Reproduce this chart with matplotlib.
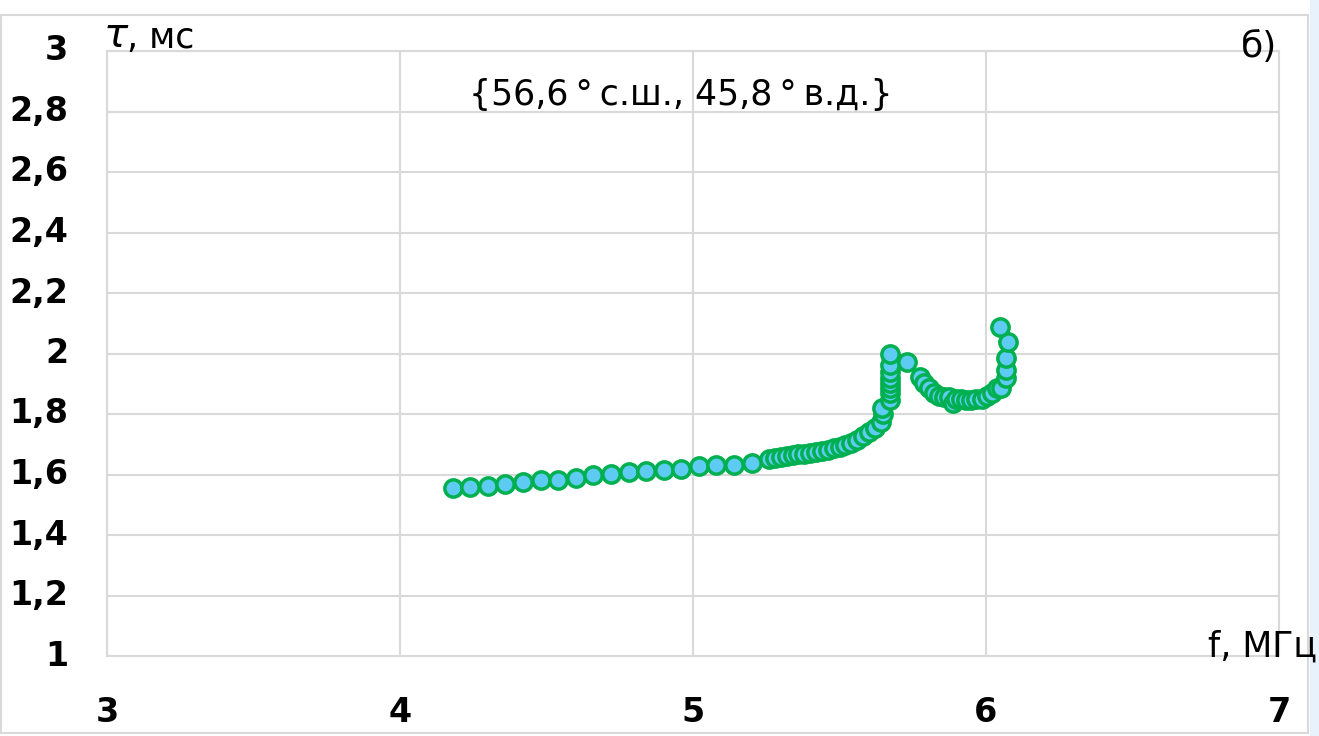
import matplotlib.pyplot as plt
from matplotlib.patches import Rectangle

# group delay vs frequency, single station
freq_mhz = [
    4.18, 4.24, 4.30, 4.36, 4.42, 4.48, 4.54, 4.60, 4.66, 4.72,
    4.78, 4.84, 4.90, 4.96, 5.02, 5.08, 5.14, 5.20,
    5.26, 5.28, 5.30, 5.32, 5.34, 5.36, 5.38, 5.40, 5.42, 5.44,
    5.46, 5.48, 5.50, 5.52, 5.54, 5.56, 5.58, 5.60, 5.62, 5.64,
    5.65, 5.645,
    5.672, 5.672, 5.672, 5.672, 5.672, 5.672, 5.672, 5.672,
    5.730,
    5.775, 5.789, 5.806, 5.823, 5.840, 5.857, 5.875, 5.886, 5.897,
    5.914, 5.932, 5.949, 5.966, 5.988, 6.005, 6.022, 6.039, 6.051,
    6.068, 6.068, 6.068, 6.074, 6.048,
]
tau_ms = [
    1.556, 1.559, 1.563, 1.569, 1.575, 1.581, 1.582, 1.588, 1.598, 1.602,
    1.609, 1.612, 1.615, 1.619, 1.629, 1.631, 1.633, 1.639,
    1.652, 1.655, 1.658, 1.661, 1.664, 1.667, 1.669, 1.671, 1.674, 1.677,
    1.681, 1.686, 1.691, 1.697, 1.705, 1.714, 1.726, 1.740, 1.755, 1.772,
    1.800, 1.820,
    1.846, 1.868, 1.885, 1.901, 1.918, 1.940, 1.962, 2.000,
    1.973,
    1.921, 1.901, 1.885, 1.868, 1.860, 1.857, 1.855, 1.835, 1.849,
    1.849, 1.846, 1.846, 1.849, 1.849, 1.858, 1.870, 1.885, 1.885,
    1.918, 1.945, 1.984, 2.039, 2.089,
]

x_ticks = [3, 4, 5, 6, 7]
y_ticks = [1, 1.2, 1.4, 1.6, 1.8, 2, 2.2, 2.4, 2.6, 2.8, 3]
y_labels = ["1", "1,2", "1,4", "1,6", "1,8", "2", "2,2", "2,4", "2,6", "2,8", "3"]

W, H = 1319, 736
fig = plt.figure(figsize=(W / 100, H / 100), dpi=100)
fig.patch.set_facecolor("white")

# outer frame and the pale strip on the right
fig.patches.append(Rectangle((1 / W, 3 / H), 1306.5 / W, 718 / H, transform=fig.transFigure,
                             fill=False, edgecolor="#d9d9d9", linewidth=1.5))
fig.patches.append(Rectangle((1310 / W, 0), 9 / W, 1, transform=fig.transFigure,
                             facecolor="#e8f2fc", edgecolor="none"))

ax = fig.add_axes([107 / W, (H - 656) / H, 1172 / W, 605 / H])
ax.set_xlim(3, 7)
ax.set_ylim(1, 3)
ax.set_xticks(x_ticks)
ax.set_yticks(y_ticks)
ax.grid(True, color="#d9d9d9", linewidth=1.5)
ax.set_axisbelow(True)
for s in ax.spines.values():
    s.set_color("#d9d9d9")
    s.set_linewidth(1.5)
ax.tick_params(length=0)
ax.set_xticklabels([])
ax.set_yticklabels([])

ax.scatter(freq_mhz, tau_ms, s=155, facecolor="#5ecbf3", edgecolor="#00b050",
           linewidths=2.5, zorder=3, clip_on=False)

font = "DejaVu Sans"
for v in x_ticks:
    ax.annotate(str(v), xy=(v, 1), xycoords="data", xytext=(0, -57), textcoords="offset pixels",
                ha="center", va="center", fontsize=24, fontweight="bold", family=font)
for v, lab in zip(y_ticks, y_labels):
    ax.annotate(lab, xy=(3, v), xycoords="data", xytext=(-39, 0), textcoords="offset pixels",
                ha="right", va="center", fontsize=24, fontweight="bold", family=font)

fig.text(103 / W, 1 - 36 / H, r"$\tau$", fontsize=29, ha="left", va="center", family=font)
fig.text(127 / W, 1 - 38 / H, ", мс", fontsize=25, ha="left", va="center", family=font)
fig.text(1277 / W, 1 - 47 / H, "б)", fontsize=26, ha="right", va="center", family=font)
fig.text(1317 / W, 1 - 647 / H, "f, МГц", fontsize=25, ha="right", va="center", family=font)
fig.text(681 / W, 1 - 95 / H, "{56,6\u2009°\u2009с.ш., 45,8\u2009°\u2009в.д.}", fontsize=25,
         ha="center", va="center", family=font)

fig.savefig("out.png", dpi=100)
